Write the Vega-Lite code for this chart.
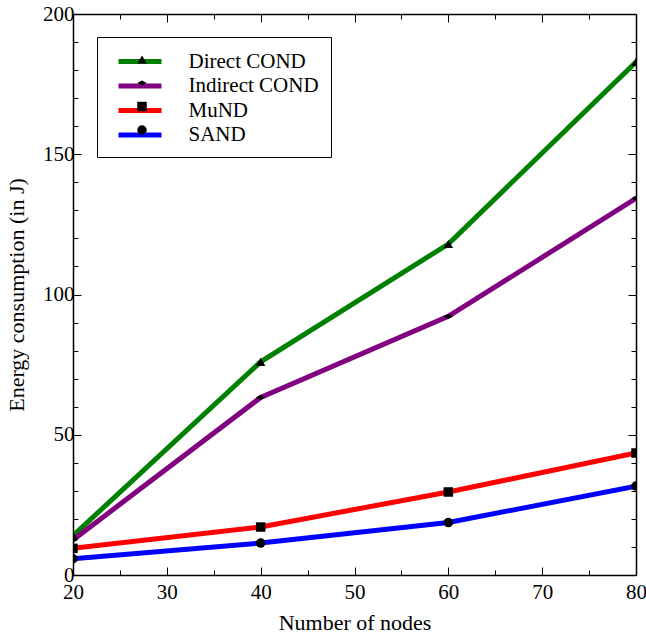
{
  "$schema": "https://vega.github.io/schema/vega-lite/v6.json",
  "width": 563,
  "height": 561,
  "autosize": {"type": "none"},
  "padding": {"left": 73, "top": 14, "right": 10, "bottom": 60},
  "background": "white",
  "config": {
    "view": {"stroke": null},
    "font": "Liberation Serif, DejaVu Serif, serif",
    "axis": {
      "labelFont": "Liberation Serif, DejaVu Serif, serif",
      "titleFont": "Liberation Serif, DejaVu Serif, serif",
      "titleFontWeight": "normal",
      "labelFontSize": 21,
      "titleFontSize": 22,
      "labelColor": "black",
      "titleColor": "black",
      "domainColor": "black",
      "domainWidth": 1.5,
      "tickColor": "black",
      "tickWidth": 1,
      "grid": false
    }
  },
  "data": {
    "values": [
      {"n": 20, "series": "Direct COND", "e": 14},
      {"n": 40, "series": "Direct COND", "e": 76},
      {"n": 60, "series": "Direct COND", "e": 118},
      {"n": 80, "series": "Direct COND", "e": 182.9},
      {"n": 20, "series": "Indirect COND", "e": 12.5},
      {"n": 40, "series": "Indirect COND", "e": 63.3},
      {"n": 60, "series": "Indirect COND", "e": 92.2},
      {"n": 80, "series": "Indirect COND", "e": 134.3},
      {"n": 20, "series": "MuND", "e": 9.5},
      {"n": 40, "series": "MuND", "e": 17.1},
      {"n": 60, "series": "MuND", "e": 29.6},
      {"n": 80, "series": "MuND", "e": 43.5},
      {"n": 20, "series": "SAND", "e": 5.8},
      {"n": 40, "series": "SAND", "e": 11.4},
      {"n": 60, "series": "SAND", "e": 18.7},
      {"n": 80, "series": "SAND", "e": 31.7}
    ]
  },
  "resolve": {"axis": {"x": "independent", "y": "independent"}},
  "layer": [
    {
      "mark": {"type": "line", "strokeWidth": 5, "clip": true},
      "encoding": {
        "x": {
          "field": "n", "type": "quantitative",
          "scale": {"domain": [20, 80], "nice": false, "zero": false},
          "axis": {
            "orient": "bottom",
            "title": "Number of  nodes",
            "values": [20, 25, 30, 35, 40, 45, 50, 55, 60, 65, 70, 75, 80],
            "labelExpr": "datum.value % 10 === 0 ? datum.label : ''",
            "tickSize": {"condition": {"test": "datum.value % 10 === 0", "value": -8}, "value": -5},
            "labelPadding": 14,
            "titlePadding": 10,
            "labelFlush": false
          }
        },
        "y": {
          "field": "e", "type": "quantitative",
          "scale": {"domain": [0, 200], "nice": false},
          "axis": {
            "orient": "left",
            "title": "Energy consumption (in J)",
            "values": [0, 10, 20, 30, 40, 50, 60, 70, 80, 90, 100, 110, 120, 130, 140, 150, 160, 170, 180, 190, 200],
            "labelExpr": "datum.value % 50 === 0 ? datum.label : ''",
            "tickSize": {"condition": {"test": "datum.value % 50 === 0", "value": -8}, "value": -5},
            "labelPadding": 7,
            "titlePadding": 14,
            "labelFlush": false
          }
        },
        "color": {
          "field": "series", "type": "nominal",
          "scale": {"range": ["#008000", "#800080", "#ff0000", "#0000ff"]},
          "legend": {
            "orient": "none",
            "legendX": 24,
            "legendY": 23,
            "title": null,
            "symbolType": "M-2.15,0L2.15,0",
            "symbolSize": 400,
            "symbolStrokeWidth": 5,
            "symbolFillColor": "transparent",
            "labelFont": "Liberation Serif, DejaVu Serif, serif",
            "labelFontSize": 21,
            "labelColor": "black",
            "labelOffset": 36,
            "rowPadding": 1.5,
            "padding": 12,
            "symbolOffset": 18.5,
            "strokeColor": "black",
            "fillColor": "white"
          }
        }
      }
    },
    {
      "mark": {"type": "point", "filled": true, "color": "black", "opacity": 1, "clip": true},
      "encoding": {
        "x": {
          "field": "n", "type": "quantitative",
          "axis": {
            "orient": "top", "title": null, "labels": false,
            "values": [20, 25, 30, 35, 40, 45, 50, 55, 60, 65, 70, 75, 80],
            "tickSize": {"condition": {"test": "datum.value % 10 === 0", "value": -8}, "value": -5}
          }
        },
        "y": {
          "field": "e", "type": "quantitative",
          "axis": {
            "orient": "right", "title": null, "labels": false,
            "values": [0, 10, 20, 30, 40, 50, 60, 70, 80, 90, 100, 110, 120, 130, 140, 150, 160, 170, 180, 190, 200],
            "tickSize": {"condition": {"test": "datum.value % 50 === 0", "value": -8}, "value": -5}
          }
        },
        "shape": {
          "field": "series", "type": "nominal",
          "scale": {
            "domain": ["Direct COND", "Indirect COND", "MuND", "SAND"],
            "range": ["triangle-up", "M-1,0L0,-0.55L1,0L0,0.55Z", "square", "circle"]
          },
          "legend": {
            "orient": "none",
            "legendX": 24,
            "legendY": 23,
            "title": null,
            "symbolSize": 90,
            "symbolFillColor": "black",
            "symbolStrokeColor": "black",
            "symbolStrokeWidth": 0,
            "labelFont": "Liberation Serif, DejaVu Serif, serif",
            "labelFontSize": 21,
            "labelExpr": "' '",
            "labelOpacity": 0,
            "labelOffset": 24,
            "rowPadding": 1.5,
            "padding": 12,
            "symbolOffset": 22.5
          }
        },
        "size": {"value": 90}
      }
    }
  ]
}
